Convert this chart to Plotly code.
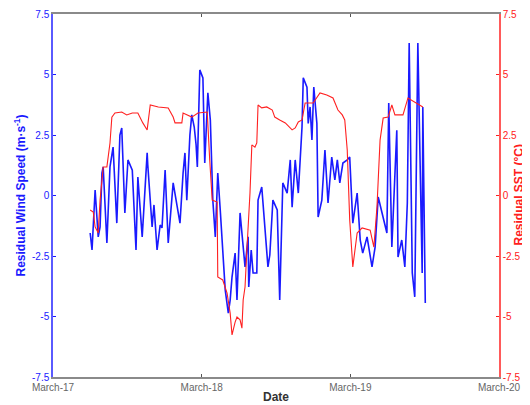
import pandas as pd
import plotly.graph_objects as go

# Hours since March 17 00:00
wind_hours = [6.0, 6.3, 6.8, 7.3, 7.6, 7.9, 8.1, 8.7, 9.2, 9.7, 10.3, 10.8, 11.1, 11.6, 12.1, 12.8,
              13.4, 13.7, 14.4, 15.2, 15.3, 16.0, 16.3, 16.8, 17.3, 17.6, 18.1, 18.6, 19.4, 20.0,
              20.5, 21.0, 21.3, 21.6, 22.1, 22.4, 22.8, 23.1, 23.3, 23.7, 24.2, 24.5, 25.0, 25.4,
              25.8, 26.2, 26.6, 27.0, 27.3, 27.5, 27.8, 28.3, 28.6, 28.9, 29.4, 29.7, 30.2, 30.5,
              31.0, 31.5, 31.6, 32.0, 32.3, 32.9, 33.1, 33.7, 34.2, 34.7, 35.0, 35.5, 36.2, 36.6,
              37.1, 37.8, 38.3, 38.6, 39.1, 39.6, 40.2, 40.4, 41.0, 41.2, 41.5, 41.8, 42.1, 42.6,
              42.8, 43.4, 43.9, 44.4, 45.0, 45.5, 45.9, 46.3, 46.8, 47.5, 47.9, 48.4, 49.1, 49.6,
              50.0, 50.7, 51.5, 52.0, 52.5, 53.3, 53.9, 54.2, 54.7, 55.5, 55.7, 56.3, 56.8, 57.2,
              57.5, 58.0, 58.4, 58.9, 59.6, 59.7, 60.1]
wind_resid = [-1.55, -2.25, 0.23, -1.71, -1.30, 0.93, 1.18, -1.96, 1.18, 2.00, -1.14, 2.50, 2.79, -0.72,
              1.47, 1.05, -2.25, 0.76, -1.71, 1.76, 1.26, -1.30, -0.39, -2.25, -1.22, -1.34, 1.05,
              -1.96, 0.52, -0.31, -1.14, 0.93, 1.76, -0.19, 2.50, 3.33, 2.83, 2.09, 1.18, 5.19, 4.86,
              1.34, 4.24, 3.12, -0.19, -1.71, 0.93, -0.60, -2.13, -2.67, -3.90, -4.86, -4.32, -3.37,
              -2.38, -4.32, -0.72, -1.55, -2.95, -1.71, -3.78, -2.25, -3.20, -3.20, -0.19, 0.35,
              -1.30, -2.95, -2.46, -0.19, -0.60, -4.32, 0.52, 0.10, 1.47, -0.48, 1.47, 0.10, 2.83,
              4.86, 4.48, 2.98, 3.66, 2.29, 4.48, 2.98, -0.89, -0.19, 1.88, -0.31, 1.59, 0.64, 1.47,
              0.52, 1.34, 1.47, 1.59, -1.14, 0.10, -1.84, -2.38, -1.71, -2.95, -2.13, -0.06, -0.89,
              -1.55, 3.82, -2.13, 2.70, -2.54, -1.84, -2.95, -0.31, 6.30, -3.20, -4.19, 6.30, -3.20,
              3.66, -4.44]

sst_hours = [6.0, 6.5, 6.8, 7.3, 7.6, 8.1, 8.7, 9.2, 9.5, 10.0, 11.1, 11.9, 12.8, 13.7, 14.5, 15.2,
             15.7, 17.0, 18.6, 19.4, 19.7, 20.8, 21.0, 22.4, 23.4, 24.9, 25.3, 25.7, 26.5, 26.6,
             27.4, 28.1, 28.6, 28.9, 29.4, 29.7, 30.2, 30.5, 30.7, 31.0, 31.3, 31.8, 32.1, 32.6,
             32.9, 33.1, 33.7, 34.5, 35.4, 35.8, 36.6, 37.5, 38.6, 39.1, 39.6, 40.2, 40.7, 42.0,
             43.1, 44.2, 45.2, 46.0, 46.7, 47.1, 47.5, 47.9, 48.4, 49.1, 49.9, 51.2, 51.8, 52.3,
             52.8, 53.3, 54.1, 54.7, 55.2, 56.5, 57.3, 58.4, 59.7]
sst_resid = [-0.60, -0.68, -1.30, -1.55, -0.19, 1.18, 1.18, 2.17, 3.24, 3.41, 3.45, 3.33, 3.41, 3.41,
             3.00, 2.71, 3.74, 3.66, 3.62, 3.24, 3.00, 3.00, 3.41, 3.24, 3.41, 3.45, 1.47, -0.19,
             -0.27, -3.37, -3.49, -4.03, -4.86, -5.76, -5.23, -5.02, -5.14, -5.48, -4.32, -3.78,
             -2.25, 0.10, 2.09, 2.00, 2.17, 3.74, 3.62, 3.66, 3.53, 3.24, 3.12, 3.00, 2.71, 2.79,
             3.04, 3.12, 3.82, 3.82, 4.24, 4.15, 4.03, 3.53, 3.33, 3.12, 1.88, -1.01, -2.95, -1.55,
             -1.34, -1.43, -2.13, -0.48, 2.29, 3.20, 3.24, 3.74, 3.33, 3.33, 4.03, 3.86, 3.66]

x_ticks = ["2013-03-17", "2013-03-18", "2013-03-19", "2013-03-20"]
y_ticks = [-7.5, -5, -2.5, 0, 2.5, 5, 7.5]
y_ticktext = ["-7.5", "-5", "-2.5", "0", "2.5", "5", "7.5"]

base = pd.Timestamp("2013-03-17")
wind_t = base + pd.to_timedelta(wind_hours, unit="h")
sst_t = base + pd.to_timedelta(sst_hours, unit="h")

BLUE = "#1a1aff"
RED = "#ff2020"
GREY = "#8a8a8a"
FONT = "Liberation Sans, Arial, sans-serif"

fig = go.Figure()
fig.add_trace(go.Scatter(x=wind_t, y=wind_resid, mode="lines",
                         line=dict(color=BLUE, width=1.6), yaxis="y", showlegend=False))
fig.add_trace(go.Scatter(x=sst_t, y=sst_resid, mode="lines",
                         line=dict(color=RED, width=1.1), yaxis="y2", showlegend=False))

# page body has an 8px default margin, so the figure is sized to fit the 530x405 window
fig.update_layout(
    width=522, height=397,
    margin=dict(l=45, r=31, t=6, b=28, autoexpand=False),
    paper_bgcolor="white", plot_bgcolor="white",
    font=dict(family=FONT, size=10),
    xaxis=dict(
        type="date", range=[x_ticks[0], x_ticks[-1]],
        tickvals=x_ticks, tickformat="%B-%d",
        ticks="inside", ticklen=3, tickcolor="#555555",
        showline=True, linecolor=GREY, linewidth=1.5, mirror="ticks",
        showgrid=False, zeroline=False, automargin=False,
        tickfont=dict(color="#666666", size=10),
        title=dict(text="<b>Date</b>", font=dict(size=12, color="#333333"), standoff=1),
    ),
    yaxis=dict(
        range=[-7.5, 7.5], tickvals=y_ticks, ticktext=y_ticktext,
        ticks="inside", ticklen=3, tickcolor=BLUE,
        showline=True, linecolor="#5a5aff", linewidth=1.5,
        showgrid=False, zeroline=False, automargin=False,
        tickfont=dict(color=BLUE, size=10),
        title=dict(text="<b>Residual Wind Speed (m·s<sup>-1</sup>)</b>",
                   font=dict(size=12, color=BLUE), standoff=4),
    ),
    yaxis2=dict(
        range=[-7.5, 7.5], tickvals=y_ticks, ticktext=y_ticktext,
        overlaying="y", side="right",
        ticks="inside", ticklen=3, tickcolor=RED,
        showline=True, linecolor="#ff5a5a", linewidth=1.5,
        showgrid=False, zeroline=False, automargin=False,
        tickfont=dict(color=RED, size=10),
    ),
    annotations=[dict(
        text="<b>Residual SST (°C)</b>", xref="paper", yref="paper",
        x=1, y=0.5, xshift=19, xanchor="center", yanchor="middle",
        textangle=-90, showarrow=False, font=dict(size=12, color=RED),
    )],
)

fig.write_html("out.html")
